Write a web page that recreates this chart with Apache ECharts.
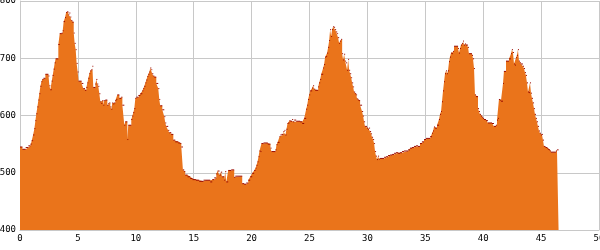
<!DOCTYPE html>
<html>
<head>
<meta charset="utf-8">
<script src="https://cdn.jsdelivr.net/npm/echarts@6/dist/echarts.min.js"></script>
<style>
html,body{margin:0;padding:0;background:#fff;}
#chart{width:600px;height:250px;}
</style>
</head>
<body>
<div id="chart"></div>
<script>
// Distance along route (km)
var distanceKm = [
0.0,0.21,0.49,0.72,0.9,1.01,1.13,1.24,1.33,1.41,1.50,1.59,1.67,1.76,1.85,1.93,2.02,2.19,2.45,2.54,2.62,2.74,2.82,2.91,3.0,3.08,3.31,3.43,3.6,3.69,3.77,3.89,3.98,4.06,4.18,4.26,4.35,4.43,4.52,4.64,4.72,4.81,4.89,4.98,5.06,5.32,5.47,5.61,
5.73,5.82,5.90,5.99,6.07,6.16,6.25,6.33,6.51,6.59,6.68,6.76,6.85,6.94,7.02,7.11,7.20,7.28,7.37,7.54,7.63,7.71,7.80,7.89,7.97,8.06,8.14,8.23,8.32,8.40,8.58,8.75,8.84,9.01,9.09,9.27,9.35,9.61,9.70,9.78,9.87,9.96,10.04,10.22,10.39,10.56,10.65,10.73,10.83,10.91,11.0,11.08,11.17,11.25,11.34,11.42,11.51,11.6,
11.77,11.94,12.03,12.11,12.29,12.46,12.55,12.63,12.80,12.89,13.06,13.24,13.41,13.67,13.84,13.93,14.07,14.18,14.27,14.47,14.70,14.90,15.19,15.48,15.85,16.06,16.43,16.60,16.77,16.95,17.06,17.23,17.35,
17.46,17.64,17.72,17.81,17.98,18.24,18.50,18.59,19.19,19.36,19.53,19.71,19.88,20.05,20.22,20.34,20.42,20.51,20.60,20.68,20.77,20.85,21.03,21.40,21.63,21.72,22.06,22.15,22.24,22.41,22.49,22.58,22.75,22.84,22.92,23.01,23.10,23.18,23.27,
23.36,23.50,23.59,23.68,23.85,24.19,24.37,24.54,24.71,24.80,24.88,24.97,25.06,25.23,25.31,25.40,25.49,25.75,25.83,25.92,26.01,26.18,26.26,26.35,26.44,26.52,26.61,26.70,26.78,26.87,26.95,27.04,27.13,27.21,27.30,27.39,27.47,27.56,27.64,27.73,27.82,27.90,27.99,28.08,28.16,28.25,28.34,28.42,28.51,28.60,28.68,28.77,28.85,28.94,29.03,29.11,
29.20,29.28,29.37,29.54,29.63,29.71,29.80,29.97,30.06,30.14,30.23,30.32,30.40,30.49,30.58,30.66,30.75,30.83,30.92,31.01,31.09,31.44,31.61,31.78,31.96,32.13,32.30,32.47,32.65,32.82,32.99,33.16,33.51,33.68,33.85,34.02,34.20,34.37,34.54,34.71,34.89,
35.06,35.41,35.58,35.67,35.75,35.84,36.01,36.18,36.27,36.36,36.44,36.53,36.62,36.70,36.79,36.88,36.96,37.05,37.13,37.22,37.31,37.39,37.48,37.83,37.91,38.00,38.08,38.17,38.26,38.34,38.43,38.52,38.69,38.77,39.03,39.12,39.21,39.29,39.38,39.55,39.64,39.72,39.81,39.90,39.98,40.07,40.24,40.41,40.76,
40.93,41.10,41.19,41.28,41.36,41.45,41.54,41.71,41.79,41.97,42.23,42.40,42.48,42.57,42.66,42.74,42.83,42.91,43.00,43.09,43.17,43.26,43.43,43.52,43.61,43.69,43.78,43.87,43.95,44.04,44.13,44.21,44.30,44.39,44.47,44.56,44.64,44.73,44.82,44.90,44.99,45.08,45.16,45.25,45.34,45.42,45.51,45.59,45.68,45.77,45.85,46.28,46.37,46.45,46.51
];
// Elevation (m)
var elevationM = [
545,541,544,547,550,556,566,577,591,603,615,627,638,651,659,663,665,672,669,652,645,660,670,681,692,699,724,743,744,748,764,771,780,781,776,779,772,766,763,744,726,715,691,676,660,656,647,644,
649,657,665,673,678,680,686,649,655,663,655,651,638,624,621,626,618,626,627,618,621,622,615,611,622,620,622,626,628,636,630,632,618,583,589,558,583,593,599,605,612,630,632,635,638,643,647,651,657,662,668,672,676,683,680,673,669,667,
656,647,628,617,610,598,587,581,574,570,567,557,554,552,551,545,505,502,496,493,490,488,487,485,487,487,484,488,491,498,503,496,501,
493,487,502,484,504,505,492,494,481,480,482,487,493,499,504,508,513,519,528,538,537,551,552,550,543,537,540,549,553,563,566,567,572,574,566,576,586,587,591,
590,593,589,592,590,589,586,595,611,618,628,636,643,648,652,646,644,650,657,663,672,683,689,702,703,709,719,731,750,738,750,755,754,750,746,743,736,726,730,733,708,697,707,695,692,679,698,679,673,666,657,650,641,638,636,629,
627,626,618,607,599,589,581,578,576,578,572,568,562,558,551,537,529,523,529,524,525,527,528,530,531,532,534,535,534,535,537,538,540,543,544,546,547,546,551,554,558,
560,563,569,573,580,578,583,593,602,607,624,643,659,673,678,673,678,694,702,709,708,712,721,717,709,717,723,726,730,723,725,723,719,708,705,699,682,636,633,612,607,602,599,597,595,593,591,587,586,
581,583,592,595,628,627,625,656,677,695,699,708,715,710,690,688,701,705,715,695,692,690,686,682,675,670,657,641,640,657,639,630,622,612,602,595,589,581,573,569,566,567,557,546,545,544,543,541,540,538,536,538,540,540,540
];
var xTicks = {min: 0, max: 50, interval: 5};
var yTicks = {min: 400, max: 800, interval: 100};

var seriesData = distanceKm.map(function (d, i) { return [d, elevationM[i]]; });

var chart = echarts.init(document.getElementById('chart'), null, {renderer: 'canvas'});
chart.setOption({
  animation: false,
  backgroundColor: '#ffffff',
  grid: {left: 20, right: 1, top: 1, bottom: 20, containLabel: false, outerBoundsMode: 'none'},
  xAxis: {
    type: 'value', min: xTicks.min, max: xTicks.max, interval: xTicks.interval,
    axisLine: {show: true, lineStyle: {color: '#c8c8c8', width: 1}},
    axisTick: {show: false},
    splitLine: {show: true, lineStyle: {color: '#c8c8c8', width: 1}},
    axisLabel: {color: '#000', fontFamily: 'DejaVu Sans Mono', fontSize: 9, margin: 4, showMaxLabel: true, hideOverlap: false}
  },
  yAxis: {
    type: 'value', min: yTicks.min, max: yTicks.max, interval: yTicks.interval,
    axisLine: {show: true, lineStyle: {color: '#c8c8c8', width: 1}},
    axisTick: {show: false},
    splitLine: {show: true, lineStyle: {color: '#c8c8c8', width: 1}},
    axisLabel: {color: '#000', fontFamily: 'DejaVu Sans Mono', fontSize: 9, margin: 4, hideOverlap: false}
  },
  series: [{
    type: 'line',
    data: seriesData,
    step: 'end',
    symbol: 'none',
    lineStyle: {width: 0, opacity: 0},
    areaStyle: {color: '#ea741b', opacity: 1, origin: 'start'},
    z: 2
  }, {
    type: 'custom',
    data: seriesData,
    z: 3,
    renderItem: function (params, api) {
      var i = params.dataIndex;
      if (i >= distanceKm.length - 1) return null;
      var p0 = api.coord([api.value(0), api.value(1)]);
      var p1 = api.coord([distanceKm[i + 1], api.value(1)]);
      return {
        type: 'line',
        shape: {x1: p0[0], y1: p0[1], x2: p1[0], y2: p1[1]},
        style: {stroke: '#9a0a00', lineWidth: 1}
      };
    }
  }]
});
</script>
</body>
</html>
